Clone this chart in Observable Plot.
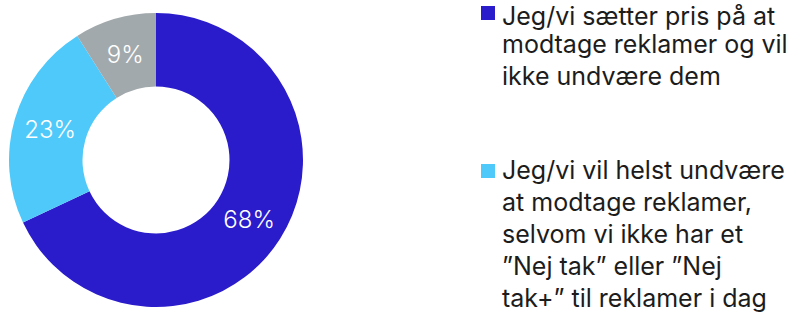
<!DOCTYPE html>
<html>
<head>
<meta charset="utf-8">
<script src="https://cdn.jsdelivr.net/npm/d3@7"></script>
<script src="https://cdn.jsdelivr.net/npm/@observablehq/plot@0.6"></script>
<style>
  html, body { margin: 0; padding: 0; background: #ffffff; }
  body { width: 790px; height: 313px; overflow: hidden; position: relative; font-family: Inter, "Liberation Sans", sans-serif; }
  #chart { position: absolute; left: 0; top: 0; }
  #legend { position: absolute; left: 481px; top: 0; color: #1c1c1c; font-size: 25px; font-weight: 400; }
  .item { display: flex; align-items: flex-start; margin-bottom: 62px; }
  .sw { width: 14px; height: 14px; flex: 0 0 14px; margin-top: 5.8px; margin-right: 7px; }
  .ln { display: block; height: 32px; line-height: 24px; white-space: nowrap; }
  .item:first-child .ln:first-child { height: 28.5px; padding-top: 3.5px; }
</style>
</head>
<body>
<div id="chart"></div>
<div id="legend"></div>
<script>
// ---- data ----
const categories = ["Sætter pris på reklamer", "Vil helst undvære reklamer", "Øvrige"];
const shares = [68, 23, 9];
const colors = ["#2a1bcb", "#4fc9fa", "#a2a9ac"];
const legendLines = [
  ["Jeg/vi sætter pris på at", "modtage reklamer og vil", "ikke undvære dem"],
  ["Jeg/vi vil helst undvære", "at modtage reklamer,", "selvom vi ikke har et", "”Nej tak” eller ”Nej", "tak+” til reklamer i dag"]
];

// ---- layout ----
const W = 320, H = 313, cx = 156, cy = 160, R = 147, r0 = 73.5;

const data = categories.map((c, i) => ({category: c, value: shares[i]}));
const color = Plot.scale({color: {type: "ordinal", domain: categories, range: colors}});

const pie = d3.pie().value(d => d.value).sort(null);
const arc = d3.arc().innerRadius(r0).outerRadius(R);
const labelArc = d3.arc().innerRadius((R + r0) / 2).outerRadius((R + r0) / 2);

const donut = () => {
  const g = d3.create("svg:g").attr("transform", `translate(${cx},${cy})`);
  const arcs = pie(data);
  g.selectAll("path").data(arcs).join("path")
    .attr("d", arc)
    .attr("fill", d => color.apply(d.data.category));
  g.selectAll("text").data(arcs).join("text")
    .attr("transform", d => `translate(${labelArc.centroid(d)})`)
    .attr("text-anchor", "middle")
    .attr("dy", "0.36em")
    .attr("fill", "#ffffff")
    .attr("font-family", "Inter, 'Liberation Sans', sans-serif")
    .attr("font-weight", 300)
    .attr("font-size", 24)
    .text(d => `${d.data.value}%`);
  return g.node();
};

const chart = Plot.plot({
  width: W,
  height: H,
  margin: 0,
  axis: null,
  style: {background: "transparent"},
  marks: [donut]
});
document.getElementById("chart").append(chart);

// ---- legend ----
const legend = d3.select("#legend");
legendLines.forEach((lines, i) => {
  const item = legend.append("div").attr("class", "item");
  item.append("div").attr("class", "sw").style("background", color.apply(categories[i]));
  const t = item.append("div");
  lines.forEach(l => t.append("span").attr("class", "ln").text(l));
});
</script>
</body>
</html>
